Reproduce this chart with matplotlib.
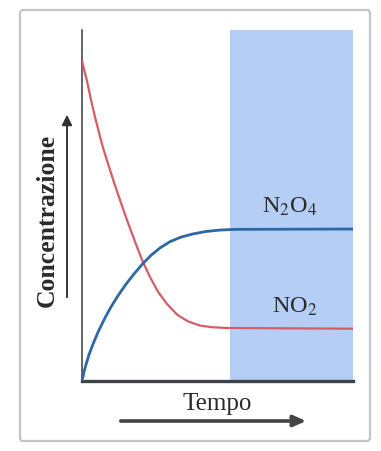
import numpy as np
import matplotlib
matplotlib.use("Agg")
import matplotlib.pyplot as plt
from matplotlib.patches import FancyBboxPatch, FancyArrowPatch

plt.rcParams['font.family'] = ['Liberation Serif', 'DejaVu Serif']
plt.rcParams['mathtext.fontset'] = 'stix'

# curves (time 0..10, concentration 0..1)
t_no2 = [0.0, 0.18, 0.33, 0.48, 0.63, 0.77, 0.96, 1.18, 1.44, 1.70, 1.96, 2.21,
         2.51, 2.80, 3.14, 3.51, 3.91, 4.35, 4.83, 5.39, 10.0]
c_no2 = [0.912, 0.856, 0.802, 0.752, 0.707, 0.666, 0.619, 0.566, 0.507, 0.450, 0.396, 0.346,
         0.296, 0.255, 0.219, 0.189, 0.170, 0.158, 0.153, 0.151, 0.149]

t_n2o4 = [0.0, 0.074, 0.148, 0.258, 0.406, 0.590, 0.849, 1.070, 1.328, 1.624, 1.919, 2.251,
          2.546, 2.878, 3.247, 3.653, 4.096, 4.576, 5.092, 5.646, 10.0]
c_n2o4 = [0.0, 0.026, 0.047, 0.075, 0.105, 0.139, 0.180, 0.211, 0.243, 0.276, 0.305, 0.335,
          0.358, 0.379, 0.397, 0.410, 0.419, 0.426, 0.430, 0.432, 0.433]

equilibrium_start = 5.46
labels = ['N$_2$O$_4$', 'NO$_2$']
xlabel = 'Tempo'
ylabel = 'Concentrazione'

W, H = 381, 451
fig = plt.figure(figsize=(W / 100, H / 100), dpi=100)

# outer frame (behind everything)
frame = FancyBboxPatch((20 / W, 10 / H), 350 / W, 431 / H,
                       boxstyle='round,pad=0,rounding_size=0.008',
                       transform=fig.transFigure, fc='white', ec='#c4c4c4', lw=1.6, zorder=-5)
fig.patches.append(frame)

ax = fig.add_axes([82 / W, 70 / H, 271 / W, 351 / H], zorder=2)
ax.set_xlim(0, 10)
ax.set_ylim(0, 1)
ax.patch.set_alpha(0)

ax.axvspan(equilibrium_start, 10, color='#b4cef5', lw=0, zorder=0)
ax.plot(t_no2, c_no2, color='#d65c69', lw=1.6, solid_joinstyle='round', zorder=3)
ax.plot(t_n2o4, c_n2o4, color='#2e67a6', lw=2.0, solid_joinstyle='round', zorder=3)

for s in ['top', 'right']:
    ax.spines[s].set_visible(False)
ax.spines['left'].set_color('#3a3a3a')
ax.spines['left'].set_linewidth(1.1)
ax.spines['bottom'].set_color('#3d4348')
ax.spines['bottom'].set_linewidth(2.4)
ax.set_xticks([])
ax.set_yticks([])

txt = dict(color='#2a2a2a', fontsize=17.5, zorder=5)
fig.text(290 / W, 1 - 213 / H, labels[0], ha='center', va='baseline', **txt)
fig.text(295 / W, 1 - 313 / H, labels[1], ha='center', va='baseline', **txt)
fig.text(217 / W, 1 - 410 / H, xlabel, ha='center', va='baseline', color='#2a2a2a', fontsize=18, zorder=5)
fig.text(47 / W, 1 - 220 / H, ylabel, ha='center', va='center', rotation=90,
         color='#2a2a2a', fontsize=18.5, fontweight='bold', zorder=5)

# arrows next to the axis names
fig.patches.append(FancyArrowPatch((67 / W, 1 - 300 / H), (67 / W, 1 - 112 / H),
                                   transform=fig.transFigure, arrowstyle='-|>,head_length=4,head_width=2',
                                   color='#333333', lw=1.4, mutation_scale=1.5))
fig.patches.append(FancyArrowPatch((118 / W, 1 - 421 / H), (309 / W, 1 - 421 / H),
                                   transform=fig.transFigure, arrowstyle='-|>,head_length=5,head_width=2.2',
                                   color='#444444', lw=2.6, mutation_scale=1.5))

fig.savefig('out.png', dpi=100)
